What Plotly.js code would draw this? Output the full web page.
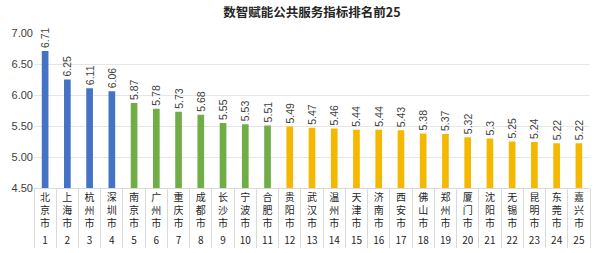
<!DOCTYPE html>
<html><head><meta charset="utf-8">
<script src="https://cdn.plot.ly/plotly-3.0.1.min.js"></script>
<style>html,body{margin:0;padding:0;background:#fff}#chart{width:600px;height:253px}</style>
</head><body><div id="chart"></div>
<script>
const cities = ["北京市","上海市","杭州市","深圳市","南京市","广州市","重庆市","成都市","长沙市","宁波市","合肥市","贵阳市","武汉市","温州市","天津市","济南市","西安市","佛山市","郑州市","厦门市","沈阳市","无锡市","昆明市","东莞市","嘉兴市"];
const ranks = ["1","2","3","4","5","6","7","8","9","10","11","12","13","14","15","16","17","18","19","20","21","22","23","24","25"];
const scores = [6.71,6.25,6.11,6.06,5.87,5.78,5.73,5.68,5.55,5.53,5.51,5.49,5.47,5.46,5.44,5.44,5.43,5.38,5.37,5.32,5.3,5.25,5.24,5.22,5.22];
const yTicks = [4.5,5.0,5.5,6.0,6.5,7.0];

const colorFor = r => r <= 4 ? "#4472C4" : (r <= 11 ? "#70AD47" : "#F5B800");
const cityLabels = cities.map(c => c.split("").join("<br>"));

const trace = {
  type: "bar",
  x: [ranks, cityLabels],
  y: scores,
  text: scores.map(v => String(v)),
  textposition: "outside",
  textangle: -90,
  constraintext: "none",
  cliponaxis: false,
  textfont: {family: "Liberation Sans, Arial, sans-serif", size: 10.5, color: "#404040"},
  marker: {color: ranks.map(r => colorFor(Number(r)))},
  hoverinfo: "skip"
};

const layout = {
  width: 600, height: 253,
  margin: {l: 34, r: 10, t: 33, b: 65},
  paper_bgcolor: "#fff", plot_bgcolor: "#fff",
  bargap: 0.7,
  showlegend: false,
  title: {text: "数智赋能公共服务指标排名前25", x: 0.52, xanchor: "center", y: 0.95, yanchor: "middle",
          font: {family: "Noto Sans CJK SC, sans-serif", size: 12.5, color: "#262626", weight: "bold"}},
  xaxis: {
    type: "multicategory",
    showline: true, linecolor: "#D9D9D9", linewidth: 1,
    showdividers: true, dividercolor: "#D9D9D9", dividerwidth: 1,
    tickfont: {family: "Noto Sans CJK SC, sans-serif", size: 10, color: "#262626"},
    showgrid: false, ticks: ""
  },
  yaxis: {
    range: [4.5, 7.0],
    tickvals: yTicks,
    ticktext: yTicks.map(v => v.toFixed(2)),
    showgrid: true, gridcolor: "#E6E6E6", gridwidth: 1,
    zeroline: false, showline: false, ticks: "",
    tickfont: {family: "Liberation Sans, Arial, sans-serif", size: 11, color: "#404040"}
  },
  font: {family: "Noto Sans CJK SC, sans-serif"}
};

Plotly.newPlot("chart", [trace], layout, {displayModeBar: false, staticPlot: true});
</script></body></html>
